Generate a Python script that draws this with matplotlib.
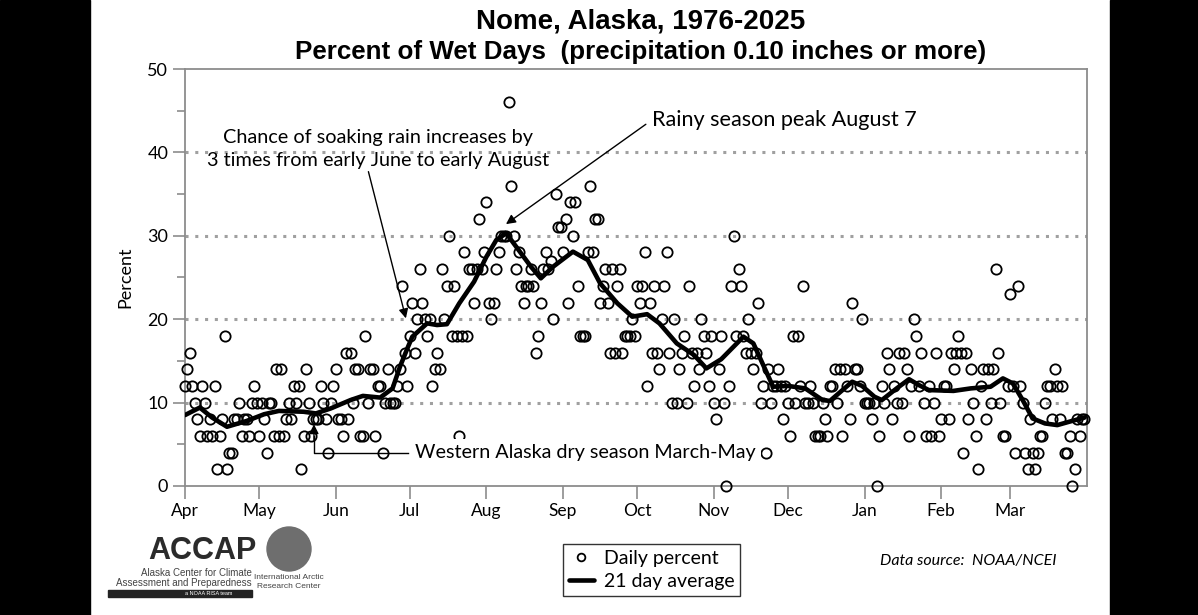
import matplotlib.pyplot as plt
from matplotlib.patches import Rectangle, Ellipse

# daily percent of wet days, one value per day starting April 1
daily_pct = [
    12, 14, 16, 12, 10, 8, 6, 12, 10, 6,
    8, 6, 12, 2, 6, 8, 18, 2, 4, 4,
    8, 8, 10, 6, 8, 8, 6, 10, 12, 10,
    6, 10, 8, 4, 10, 10, 6, 14, 6, 14,
    6, 8, 10, 8, 12, 10, 12, 2, 6, 14,
    10, 6, 8, 8, 8, 12, 10, 8, 4, 10,
    12, 14, 8, 8, 6, 16, 8, 16, 10, 14,
    14, 6, 6, 18, 10, 14, 14, 6, 12, 12,
    4, 10, 14, 10, 10, 10, 12, 14, 24, 16,
    12, 18, 22, 16, 20, 26, 22, 20, 18, 20,
    12, 14, 16, 14, 26, 20, 24, 30, 18, 24,
    18, 6, 18, 28, 18, 26, 26, 22, 26, 32,
    26, 28, 34, 22, 20, 22, 26, 28, 30, 30,
    30, 46, 36, 30, 26, 28, 24, 22, 24, 24,
    26, 24, 16, 18, 22, 26, 28, 26, 27, 20,
    35, 31, 31, 28, 32, 22, 34, 30, 34, 24,
    18, 18, 18, 28, 36, 28, 32, 32, 22, 24,
    26, 22, 16, 26, 16, 24, 26, 16, 18, 18,
    18, 20, 18, 24, 22, 24, 28, 12, 22, 16,
    24, 16, 14, 20, 24, 28, 16, 10, 20, 10,
    14, 16, 18, 10, 24, 16, 12, 16, 14, 20,
    18, 16, 12, 18, 10, 8, 14, 18, 10, 0,
    12, 24, 30, 18, 26, 24, 18, 16, 20, 16,
    14, 16, 22, 10, 12, 4, 14, 10, 12, 12,
    14, 12, 8, 12, 10, 6, 18, 10, 18, 12,
    24, 10, 10, 12, 10, 6, 6, 6, 10, 8,
    6, 12, 12, 14, 10, 14, 6, 14, 12, 8,
    22, 14, 14, 12, 20, 10, 10, 10, 8, 10,
    0, 6, 12, 10, 16, 14, 8, 12, 10, 16,
    10, 16, 14, 6, 12, 20, 18, 12, 16, 10,
    6, 12, 6, 10, 16, 6, 8, 12, 12, 8,
    16, 14, 16, 18, 16, 4, 16, 8, 14, 10,
    6, 2, 12, 14, 8, 14, 10, 14, 26, 16,
    10, 6, 6, 12, 23, 12, 4, 24, 12, 10,
    4, 2, 8, 4, 2, 4, 6, 6, 10, 12,
    12, 8, 14, 12, 8, 12, 4, 4, 6, 0,
    2, 8, 6, 8, 8,
]
days = list(range(len(daily_pct)))

# 21 day average
avg_day = [0, 6, 11, 17, 25, 32, 38, 48, 53, 59, 67, 72, 79, 84, 87, 90, 92,
           98, 102, 106, 111, 117, 122, 126, 130, 134, 140, 144, 149, 157,
           163, 168, 175, 181, 187, 192, 199, 206, 211, 217, 226, 230, 234,
           238, 244, 251, 258, 261, 270, 274, 279, 282, 288, 293, 297, 301,
           311, 318, 326, 331, 335, 339, 343, 348, 353, 359, 364]
avg_pct = [8.5, 9.4, 8.2, 7.1, 7.8, 8.6, 9.0, 8.9, 8.7, 9.3, 10.3, 10.8, 10.6,
           11.7, 14.3, 16.5, 17.9, 19.5, 19.3, 19.4, 21.9, 24.5, 27.5, 29.5,
           30.3, 28.7, 26.3, 24.9, 26.3, 28.1, 27.1, 24.3, 21.9, 20.3, 20.6,
           19.5, 17.1, 15.7, 14.1, 15.2, 17.9, 17.1, 14.5, 11.9, 12.0, 11.7,
           10.3, 10.2, 12.5, 12.0, 10.7, 10.3, 11.7, 12.8, 12.1, 11.5, 11.4,
           11.7, 11.9, 12.9, 12.3, 10.3, 8.1, 7.5, 7.3, 7.8, 8.2]

month_labels = ['Apr', 'May', 'Jun', 'Jul', 'Aug', 'Sep', 'Oct', 'Nov', 'Dec',
                'Jan', 'Feb', 'Mar']
month_start = [0, 30, 61, 91, 122, 153, 183, 214, 244, 275, 306, 334]

body_font = 'Lato'
title_font = 'Liberation Sans'
grey = '#8c8c8c'

fig = plt.figure(figsize=(11.98, 6.15), dpi=100)
fig.patches.append(Rectangle((0, 0), 0.0751, 1, transform=fig.transFigure,
                             color='black', zorder=-5))
fig.patches.append(Rectangle((0.9265, 0), 0.0735, 1, transform=fig.transFigure,
                             color='black', zorder=-5))

ax = fig.add_axes([0.1544, 0.2098, 0.7529, 0.678])

for v in [10, 20, 30, 40]:
    ax.axhline(v, color='#a0a0a0', lw=2.2, ls=(0, (1, 2.2)), zorder=1)

pts, = ax.plot(days, daily_pct, ls='none', marker='o', ms=7.4, mfc='none',
               mec='black', mew=1.3, clip_on=False, zorder=3,
               label='Daily percent')
avg, = ax.plot(avg_day, avg_pct, color='black', lw=3.3, zorder=4,
               solid_joinstyle='round', solid_capstyle='round',
               label='21 day average')

ax.set_xlim(0, 365)
ax.set_ylim(0, 50)
ax.set_xticks(month_start)
ax.set_xticklabels(month_labels, family=body_font, fontsize=12.5)
ax.set_yticks([0, 10, 20, 30, 40, 50])
ax.set_yticks([5, 15, 25, 35, 45], minor=True)
for lab in ax.get_yticklabels():
    lab.set_family(body_font)
    lab.set_fontsize(13)
ax.tick_params(axis='both', which='major', direction='out', length=9,
               width=1.2, color=grey, pad=3)
ax.tick_params(axis='y', which='minor', direction='out', length=6,
               width=1.2, color=grey)
for s in ax.spines.values():
    s.set_color(grey)
    s.set_linewidth(1.3)
ax.set_ylabel('Percent', family=body_font, fontsize=13, labelpad=10)

fig.text(0.535, 0.965, 'Nome, Alaska, 1976-2025', ha='center', va='center',
         family=title_font, weight='bold', fontsize=20)
fig.text(0.535, 0.915, 'Percent of Wet Days  (precipitation 0.10 inches or more)',
         ha='center', va='center', family=title_font, weight='bold',
         fontsize=18.7)

ax.annotate('Chance of soaking rain increases by\n3 times from early June to early August',
            xy=(89.4, 20.1), xytext=(78.1, 40.4), ha='center', va='center',
            family=body_font, fontsize=14.3, linespacing=1.4,
            arrowprops=dict(arrowstyle='-|>', color='black', lw=1.0,
                            shrinkA=0, shrinkB=0, mutation_scale=14,
                            relpos=(0.47, 0.0)))
ax.annotate('Rainy season peak August 7', xy=(129.9, 31.4),
            xytext=(189.0, 43.9), ha='left', va='center',
            family=body_font, fontsize=15.6,
            arrowprops=dict(arrowstyle='-|>', color='black', lw=1.0,
                            shrinkA=3, shrinkB=0, mutation_scale=14,
                            relpos=(0.0, 0.5)))
ax.text(93.1, 4.0, 'Western Alaska dry season March-May', ha='left',
        va='center', family=body_font, fontsize=14.2, zorder=6,
        bbox=dict(facecolor='white', edgecolor='none', pad=3.5))
ax.plot([90.2, 52.2, 52.2], [4.0, 4.0, 6.0], color='black', lw=1.0, zorder=5)
ax.annotate('', xy=(52.2, 7.4), xytext=(52.2, 5.5),
            arrowprops=dict(arrowstyle='-|>', color='black', lw=1.0,
                            shrinkA=0, shrinkB=0, mutation_scale=14))

leg = fig.legend(handles=[pts, avg], loc='upper left',
                 bbox_to_anchor=(563 / 1198, 1 - 544 / 615), borderaxespad=0,
                 prop={'family': body_font, 'size': 14}, frameon=True,
                 fancybox=False, edgecolor='black', handlelength=1.3,
                 handletextpad=0.5, borderpad=0.3, labelspacing=0.3,
                 markerscale=0.75)
leg.get_frame().set_linewidth(1.0)

fig.text(880 / 1198, 1 - 561 / 615, 'Data source:  NOAA/NCEI', ha='left',
         va='center', family=body_font, style='italic', fontsize=11.5)

# logo stand-ins
fig.text(148 / 1198, 1 - 551 / 615, 'ACCAP', ha='left', va='center',
         family=title_font, weight='bold', fontsize=22, color='#2b2b2b')
fig.text(252 / 1198, 1 - 573 / 615, 'Alaska Center for Climate', ha='right',
         va='center', family=title_font, fontsize=7, color='#444444')
fig.text(252 / 1198, 1 - 583 / 615, 'Assessment and Preparedness', ha='right',
         va='center', family=title_font, fontsize=7, color='#444444')
fig.patches.append(Rectangle((108 / 1198, 1 - 597 / 615), 144 / 1198, 7 / 615,
                             transform=fig.transFigure, color='#222222'))
fig.text(232 / 1198, 1 - 593.5 / 615, 'a NOAA RISA team', ha='right',
         va='center', family=title_font, fontsize=4, color='white')
fig.patches.append(Ellipse((289 / 1198, 1 - 549 / 615), 44 / 1198, 44 / 615,
                           transform=fig.transFigure, color='#6e6e6e'))
fig.text(289 / 1198, 1 - 582 / 615, 'International Arctic\nResearch Center',
         ha='center', va='center', family=title_font, fontsize=6,
         color='#444444', linespacing=1.3)

fig.savefig('out.png', dpi=100, facecolor='white')
